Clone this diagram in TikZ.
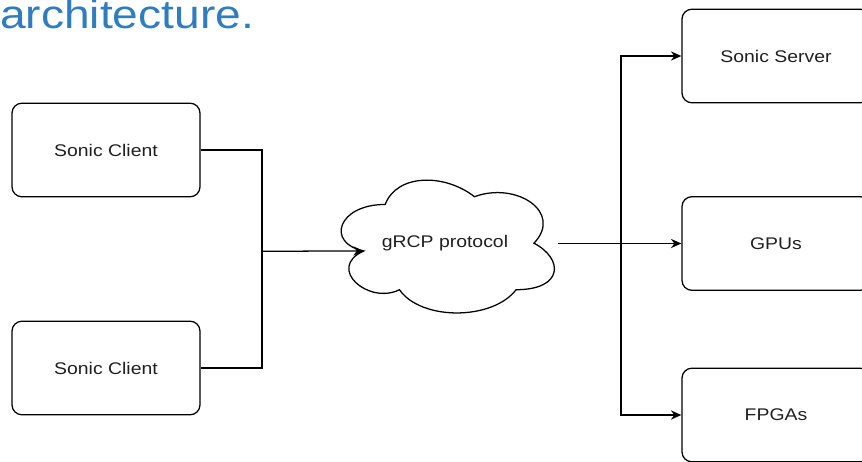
\documentclass[tikz,border=0pt]{standalone}
\usepackage{fontspec}
\setmainfont[FakeStretch=1.15]{Liberation Sans}
\usepackage{xcolor}
\usepackage{tikz}
\usetikzlibrary{arrows.meta,calc}
\definecolor{titleblue}{RGB}{46,125,193}

\begin{document}
\begin{tikzpicture}[x=0.025cm,y=-0.025cm,>={Stealth[length=2.6mm,width=2.3mm]},
  box/.style={draw,rounded corners=0.25cm,line width=0.9pt,minimum width=4.7cm,minimum height=2.34cm,font=\fontsize{12}{14}\selectfont,text=black!88},
  link/.style={line width=0.9pt}]
  \useasboundingbox (0,0) rectangle (862,461);
  \clip (0,0) rectangle (862,461);
  \node[anchor=base west,inner sep=0pt,text=titleblue,font=\fontsize{28.5}{30}\selectfont] (title) at (0,28) {architecture.};
  \node[box] (client1) at (106,150) {Sonic Client};
  \node[box] (client2) at (106,368) {Sonic Client};
  \node[inner sep=0pt,minimum width=5.95cm,minimum height=3.875cm,font=\fontsize{12}{14}\selectfont,text=black!88] (cloud) at (445,243.5) {gRCP protocol};
  \begin{scope}[shift={(cloud.north west)},link]
    \draw (59.5,38.75) .. controls (11.9,38.75) and (0,77.5) .. (38.08,85.25)
      .. controls (0,102.3) and (42.84,139.5) .. (73.78,124)
      .. controls (95.2,155) and (166.6,155) .. (190.4,124)
      .. controls (238,124) and (238,93) .. (208.25,77.5)
      .. controls (238,46.5) and (190.4,15.5) .. (148.75,31)
      .. controls (119,7.75) and (71.4,7.75) .. (59.5,38.75) -- cycle;
  \end{scope}
  \node[box] (server) at (776,56) {Sonic Server};
  \node[box] (gpus) at (776,243.5) {GPUs};
  \node[box] (fpgas) at (776,415) {FPGAs};
  \coordinate (cin) at ($(cloud.north west)+(38.08,85.25)$);
  \coordinate (cout) at ($(cloud.east)+(-6,0)$);
  \coordinate (jl) at (262,251.25);
  \coordinate (jr) at (621,243.5);
  \draw[link] (client1.east) -| (jl);
  \draw[link] (client2.east) -| (jl);
  \draw[link,->] (jl) -- (cin);
  \draw[link,->] (cout) -- (gpus.west);
  \draw[link,->] (jr) |- (server.west);
  \draw[link,->] (jr) |- (fpgas.west);
\end{tikzpicture}
\end{document}
